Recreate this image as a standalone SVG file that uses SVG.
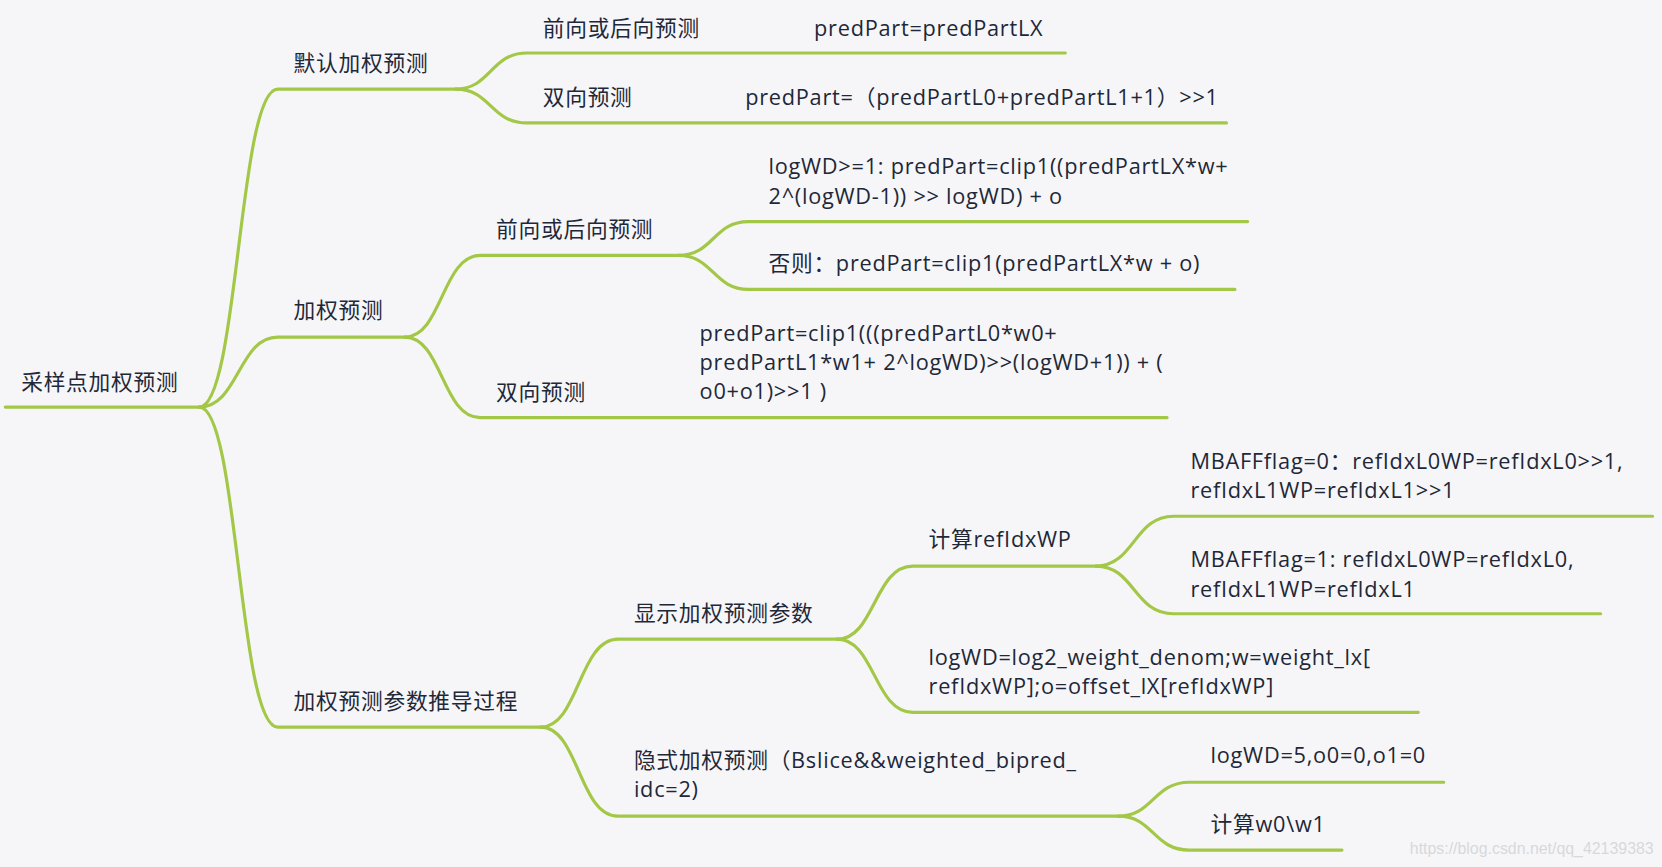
<svg xmlns="http://www.w3.org/2000/svg" width="1662" height="867" viewBox="0 0 1662 867">
<style>
.c{fill:none;stroke:#a3c746;stroke-width:3;stroke-linecap:round}
text{font-family:"Open Sans","Noto Sans CJK SC",sans-serif;font-size:20.5px;letter-spacing:0.7px;fill:#1e2838}
.w{fill:#d8d8dc;font-family:"Liberation Sans",sans-serif;font-size:15px;letter-spacing:0}
</style>
<rect width="1662" height="867" fill="#f6f6f8"/>
<g transform="scale(1.06)">
<g id="connectors">
<path class="c" d="M5 384H188"/>
<path class="c" d="M188 384C225 384 225 84 262 84H430"/>
<path class="c" d="M188 384C225 384 225 318 262 318H382"/>
<path class="c" d="M188 384C225 384 225 686 262 686H510"/>
<path class="c" d="M430 84C463 84 463 50 497 50H1005"/>
<path class="c" d="M430 84C463 84 463 116 497 116H1157"/>
<path class="c" d="M382 318C417 318 417 241 453 241H640"/>
<path class="c" d="M382 318C417 318 417 394 453 394H1101"/>
<path class="c" d="M640 241C673 241 673 209 706 209H1177"/>
<path class="c" d="M640 241C673 241 673 273 706 273H1165"/>
<path class="c" d="M510 686C546 686 546 603 583 603H790"/>
<path class="c" d="M510 686C546 686 546 770 583 770H1055"/>
<path class="c" d="M790 603C825 603 825 534 861 534H1034"/>
<path class="c" d="M790 603C825 603 825 672 861 672H1338"/>
<path class="c" d="M1034 534C1070 534 1070 487 1107 487H1559"/>
<path class="c" d="M1034 534C1070 534 1070 579 1107 579H1510"/>
<path class="c" d="M1055 770C1088 770 1088 738 1122 738H1362"/>
<path class="c" d="M1055 770C1088 770 1088 802 1122 802H1266"/>
</g>
<g id="root"><text x="20" y="368">采样点加权预测</text></g>
<g id="n1"><text x="277" y="67">默认加权预测</text></g>
<g id="n2"><text x="277" y="300">加权预测</text></g>
<g id="n3"><text x="277" y="669">加权预测参数推导过程</text></g>
<g id="n11"><text x="512" y="34">前向或后向预测</text><text x="768" y="34">predPart=predPartLX</text></g>
<g id="n12"><text x="512" y="99">双向预测</text><text x="703" y="99">predPart=（predPartL0+predPartL1+1）&gt;&gt;1</text></g>
<g id="n21"><text x="468" y="224">前向或后向预测</text></g>
<g id="n211"><text x="725" y="164">logWD&gt;=1: predPart=clip1((predPartLX*w+</text><text x="725" y="192">2^(logWD-1)) &gt;&gt; logWD) + o</text></g>
<g id="n212"><text x="725" y="256">否则：predPart=clip1(predPartLX*w + o)</text></g>
<g id="n22"><text x="468" y="377">双向预测</text><text x="660" y="322">predPart=clip1(((predPartL0*w0+</text><text x="660" y="349">predPartL1*w1+ 2^logWD)&gt;&gt;(logWD+1)) + (</text><text x="660" y="376">o0+o1)&gt;&gt;1 )</text></g>
<g id="n31"><text x="598" y="586">显示加权预测参数</text></g>
<g id="n311"><text x="876" y="516">计算refIdxWP</text></g>
<g id="n3111"><text x="1123" y="442">MBAFFflag=0：refIdxL0WP=refIdxL0&gt;&gt;1,</text><text x="1123" y="470">refIdxL1WP=refIdxL1&gt;&gt;1</text></g>
<g id="n3112"><text x="1123" y="535">MBAFFflag=1: refIdxL0WP=refIdxL0,</text><text x="1123" y="563">refIdxL1WP=refIdxL1</text></g>
<g id="n312"><text x="876" y="627">logWD=log2_weight_denom;w=weight_lx[</text><text x="876" y="655">refIdxWP];o=offset_lX[refIdxWP]</text></g>
<g id="n32"><text x="598" y="725">隐式加权预测（Bslice&amp;&amp;weighted_bipred_</text><text x="598" y="752">idc=2)</text></g>
<g id="n321"><text x="1142" y="720">logWD=5,o0=0,o1=0</text></g>
<g id="n322"><text x="1142" y="785">计算w0\w1</text></g>
<text class="w" x="1330" y="806">https://blog.csdn.net/qq_42139383</text>
</g>
</svg>
